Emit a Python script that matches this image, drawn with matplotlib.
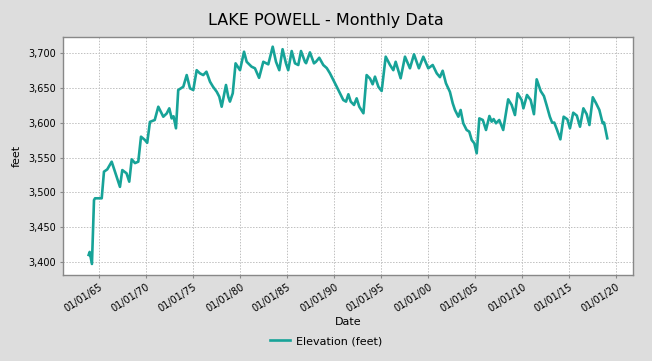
import matplotlib
matplotlib.use("Agg")
import matplotlib.pyplot as plt
from matplotlib.ticker import FuncFormatter

# decimal year / elevation (ft)
years = [1963.87, 1963.98, 1964.22, 1964.44, 1964.55, 1965.26, 1965.50, 1965.85,
         1966.32, 1966.49, 1967.20, 1967.45, 1967.90, 1968.19, 1968.45, 1968.80,
         1969.15, 1969.44, 1969.86, 1970.10, 1970.39, 1970.90, 1971.28, 1971.81,
         1972.17, 1972.45, 1972.70, 1972.90, 1973.16, 1973.40, 1973.94, 1974.30,
         1974.65, 1975.00, 1975.36, 1975.70, 1976.06, 1976.40, 1976.78, 1977.10,
         1977.50, 1977.77, 1978.02, 1978.27, 1978.48, 1978.72, 1978.90, 1979.20,
         1979.50, 1979.97, 1980.40, 1980.68, 1981.20, 1981.56, 1982.00, 1982.45,
         1982.98, 1983.45, 1983.80, 1984.15, 1984.50, 1984.86, 1985.10, 1985.47,
         1985.82, 1986.17, 1986.46, 1986.88, 1987.00, 1987.41, 1987.84, 1988.05,
         1988.40, 1988.83, 1989.20, 1989.54, 1989.90, 1990.26, 1990.60, 1990.96,
         1991.25, 1991.50, 1991.75, 1992.10, 1992.38, 1992.66, 1993.10, 1993.44,
         1993.80, 1994.08, 1994.33, 1994.70, 1995.04, 1995.47, 1995.93, 1996.28,
         1996.53, 1997.06, 1997.52, 1998.05, 1998.48, 1999.00, 1999.47, 2000.00,
         2000.47, 2000.90, 2001.24, 2001.53, 2001.88, 2002.30, 2002.60, 2002.84,
         2003.20, 2003.44, 2003.72, 2004.08, 2004.36, 2004.62, 2004.90, 2005.15,
         2005.43, 2005.80, 2006.14, 2006.50, 2006.74, 2006.95, 2007.20, 2007.55,
         2007.97, 2008.50, 2008.87, 2009.22, 2009.50, 2009.93, 2010.12, 2010.50,
         2010.89, 2011.24, 2011.53, 2011.96, 2012.30, 2012.58, 2012.93, 2013.18,
         2013.40, 2013.70, 2014.05, 2014.40, 2014.79, 2015.07, 2015.42, 2015.80,
         2016.14, 2016.50, 2016.85, 2017.14, 2017.50, 2017.85, 2018.20, 2018.55,
         2018.70, 2019.04]
elev = [3410.5, 3414.8, 3397.6, 3489.0, 3491.6, 3491.6, 3529.7, 3533.0,
        3544.0, 3537.0, 3508.0, 3532.0, 3527.4, 3515.4, 3547.4, 3542.0,
        3544.0, 3579.8, 3575.0, 3571.0, 3601.0, 3603.7, 3622.7, 3608.4,
        3613.0, 3620.4, 3606.0, 3609.0, 3591.8, 3646.6, 3651.3, 3668.0,
        3649.0, 3646.6, 3675.0, 3670.5, 3668.0, 3672.8, 3658.5, 3651.3,
        3644.0, 3637.0, 3622.7, 3639.5, 3653.8, 3637.0, 3630.0, 3642.0,
        3684.8, 3675.0, 3701.4, 3687.0, 3680.0, 3677.7, 3664.0, 3687.0,
        3683.4, 3708.6, 3687.0, 3675.0, 3705.0, 3684.8, 3675.0, 3702.4,
        3684.8, 3682.4, 3702.4, 3687.0, 3685.0, 3700.5, 3684.8, 3687.0,
        3692.8, 3682.4, 3678.0, 3670.5, 3661.0, 3651.3, 3642.0, 3632.3,
        3630.0, 3640.5, 3630.0, 3625.2, 3634.7, 3622.7, 3613.3, 3668.0,
        3663.0, 3654.8, 3665.7, 3651.0, 3645.2, 3694.3, 3682.4, 3675.0,
        3687.0, 3663.4, 3694.3, 3677.7, 3697.7, 3677.7, 3694.3, 3677.7,
        3682.4, 3670.5, 3665.0, 3674.2, 3656.2, 3644.0, 3627.6, 3618.0,
        3608.4, 3618.0, 3599.0, 3589.4, 3587.0, 3575.0, 3570.3, 3556.0,
        3606.0, 3603.7, 3589.4, 3609.4, 3601.3, 3605.0, 3599.0, 3603.7,
        3589.4, 3633.3, 3625.2, 3610.8, 3641.9, 3632.3, 3620.4, 3639.5,
        3632.3, 3612.0, 3661.9, 3645.0, 3638.0, 3625.2, 3608.4, 3599.8,
        3600.0, 3589.4, 3576.0, 3608.4, 3604.7, 3591.8, 3614.1, 3610.0,
        3594.1, 3620.4, 3612.0, 3596.5, 3636.2, 3627.6, 3618.0, 3599.0,
        3600.0, 3577.5]

tick_years = [1965, 1970, 1975, 1980, 1985, 1990, 1995, 2000, 2005, 2010, 2015, 2020]
tick_labels = ["01/01/65", "01/01/70", "01/01/75", "01/01/80", "01/01/85", "01/01/90",
               "01/01/95", "01/01/00", "01/01/05", "01/01/10", "01/01/15", "01/01/20"]
y_ticks = [3400, 3450, 3500, 3550, 3600, 3650, 3700]

bg = "#dddddd"
fig = plt.figure(figsize=(6.52, 3.61), dpi=100, facecolor=bg)
ax = fig.add_axes([0.0966, 0.2382, 0.8743, 0.6601])
ax.set_facecolor("white")

ax.plot(years, elev, color="#17a398", lw=1.9, label="Elevation (feet)", solid_joinstyle="round")

ax.set_xlim(1961.14, 2021.78)
ax.set_ylim(3381.8, 3722.9)
ax.set_xticks(tick_years)
ax.set_xticklabels(tick_labels, rotation=33, ha="right", rotation_mode="anchor", fontsize=7)
ax.set_yticks(y_ticks)
ax.yaxis.set_major_formatter(FuncFormatter(lambda v, p: "{:,.0f}".format(v)))
ax.tick_params(axis="y", labelsize=7)
ax.tick_params(length=2, color="#888888", pad=3)

ax.grid(True, color="#c0c0c0", linestyle=(0, (1.5, 1.5)), lw=0.7)
for s in ax.spines.values():
    s.set_color("#888888")
    s.set_linewidth(1)

ax.set_ylabel("feet", fontsize=8, labelpad=5)
ax.set_xlabel("Date", fontsize=8, labelpad=2)
fig.suptitle("LAKE POWELL - Monthly Data", fontsize=11.5, y=0.965)

leg = fig.legend(loc="center", bbox_to_anchor=(0.5, 0.055), frameon=False, fontsize=8,
                 handlelength=1.8, handletextpad=0.5)

fig.savefig("out.png", dpi=100, facecolor=bg)
